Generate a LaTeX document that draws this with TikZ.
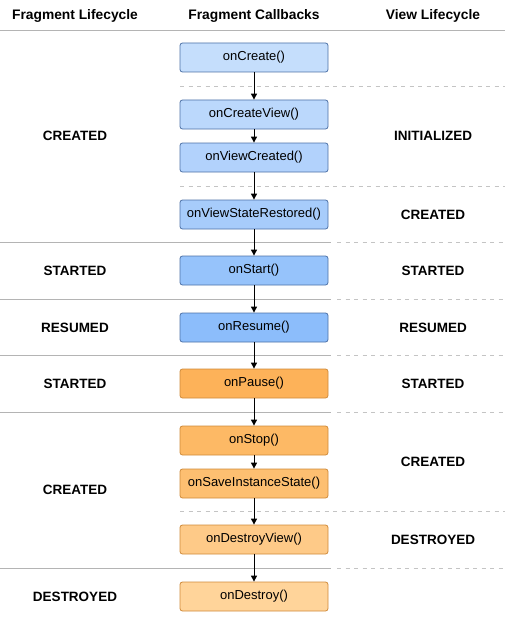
\documentclass[tikz,border=0pt]{standalone}
\usepackage{fontspec}
\setmainfont{Liberation Sans}
\usepackage{xcolor}
\usepackage{tikz}
\usetikzlibrary{positioning,arrows.meta}

\definecolor{blueA}{HTML}{C5DEFC}
\definecolor{blueB}{HTML}{BBD8FC}
\definecolor{blueC}{HTML}{B2D2FC}
\definecolor{blueD}{HTML}{A7CCFB}
\definecolor{blueE}{HTML}{96C3FB}
\definecolor{blueF}{HTML}{8CBDFB}
\definecolor{blueEdge}{HTML}{4D71A6}
\definecolor{orangeA}{HTML}{FDB259}
\definecolor{orangeB}{HTML}{FDB965}
\definecolor{orangeC}{HTML}{FDBF71}
\definecolor{orangeD}{HTML}{FECA88}
\definecolor{orangeE}{HTML}{FFD49A}
\definecolor{orangeEdge}{HTML}{CF8A3A}
\definecolor{rule}{HTML}{B4B4B4}
\definecolor{dashrule}{HTML}{C4C4C4}

\begin{document}
\begin{tikzpicture}[x=1pt, y=-1pt,
    callback/.style={draw, rounded corners=2.5pt, line width=0.8pt,
      minimum width=148pt, minimum height=29pt, inner sep=0pt,
      font=\fontsize{13}{15}\selectfont},
    bluebox/.style={callback, draw=blueEdge},
    orangebox/.style={callback, draw=orangeEdge},
    state/.style={font=\bfseries\fontsize{13.5}{15}\selectfont},
    header/.style={font=\bfseries\fontsize{13.8}{15}\selectfont},
    flow/.style={-{Triangle[length=6pt,width=6pt]}, line width=1pt, black},
    phase/.style={rule, line width=0.9pt},
    subphase/.style={dashrule, line width=0.9pt, dash pattern=on 4pt off 4.5pt}]
    \useasboundingbox (0,0) rectangle (505,623);

    % Headers
    \node[header] (hfrag) at (75,16) {Fragment Lifecycle};
    \node[header] (hcall) at (254,16) {Fragment Callbacks};
    \node[header] (hview) at (433,16) {View Lifecycle};
    \draw[phase] (0,30) -- (505,30);

    % Separators
    \draw[subphase] (180,86) -- (505,86);
    \draw[subphase] (180,186) -- (505,186);
    \draw[phase] (0,242) -- (331,242);
    \draw[subphase] (337,242) -- (505,242);
    \draw[phase] (0,299) -- (331,299);
    \draw[subphase] (337,299) -- (505,299);
    \draw[phase] (0,355) -- (331,355);
    \draw[subphase] (337,355) -- (505,355);
    \draw[phase] (0,412) -- (331,412);
    \draw[subphase] (337,412) -- (505,412);
    \draw[subphase] (180,511) -- (505,511);
    \draw[phase] (0,568) -- (331,568);
    \draw[subphase] (337,568) -- (505,568);

    % Callbacks
    \node[bluebox, fill=blueA] (create) at (254,57.5) {onCreate()};
    \node[bluebox, fill=blueB] (createview) at (254,114.5) {onCreateView()};
    \node[bluebox, fill=blueC] (viewcreated) at (254,157.5) {onViewCreated()};
    \node[bluebox, fill=blueD] (restored) at (254,214.5) {onViewStateRestored()};
    \node[bluebox, fill=blueE] (start) at (254,270.5) {onStart()};
    \node[bluebox, fill=blueF] (resume) at (254,327.5) {onResume()};
    \node[orangebox, fill=orangeA] (pause) at (254,383.5) {onPause()};
    \node[orangebox, fill=orangeB] (stop) at (254,440.5) {onStop()};
    \node[orangebox, fill=orangeC] (save) at (254,483.5) {onSaveInstanceState()};
    \node[orangebox, fill=orangeD] (destroyview) at (254,539.5) {onDestroyView()};
    \node[orangebox, fill=orangeE] (destroy) at (254,596.5) {onDestroy()};

    \draw[flow] (create) -- (createview);
    \draw[flow] (createview) -- (viewcreated);
    \draw[flow] (viewcreated) -- (restored);
    \draw[flow] (restored) -- (start);
    \draw[flow] (start) -- (resume);
    \draw[flow] (resume) -- (pause);
    \draw[flow] (pause) -- (stop);
    \draw[flow] (stop) -- (save);
    \draw[flow] (save) -- (destroyview);
    \draw[flow] (destroyview) -- (destroy);

    % Fragment states
    \node[state] (fcreated) at (75,136) {CREATED};
    \node[state] (fstarted) at (75,270.5) {STARTED};
    \node[state] (fresumed) at (75,327.5) {RESUMED};
    \node[state] (fpaused) at (75,383.5) {STARTED};
    \node[state] (fstopped) at (75,490) {CREATED};
    \node[state] (fdestroyed) at (75,596.5) {DESTROYED};

    % View states
    \node[state] (vinit) at (433,136) {INITIALIZED};
    \node[state] (vcreated) at (433,214.5) {CREATED};
    \node[state] (vstarted) at (433,270.5) {STARTED};
    \node[state] (vresumed) at (433,327.5) {RESUMED};
    \node[state] (vpaused) at (433,383.5) {STARTED};
    \node[state] (vstopped) at (433,461.5) {CREATED};
    \node[state] (vdestroyed) at (433,539.5) {DESTROYED};
\end{tikzpicture}
\end{document}
